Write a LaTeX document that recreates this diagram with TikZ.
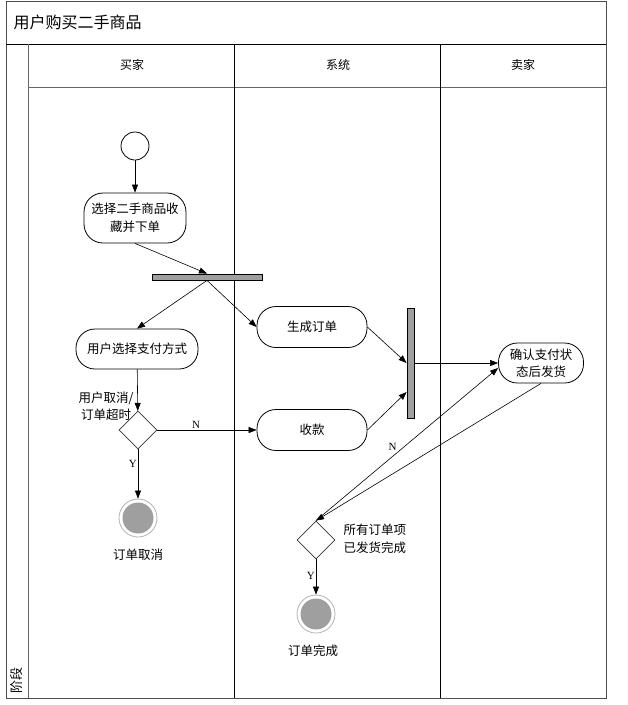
\documentclass[tikz,border=0pt]{standalone}
\usepackage{fontspec}
\setmainfont{Noto Sans CJK SC}
\newfontfamily\ynfont{Liberation Serif}
\usetikzlibrary{arrows.meta,calc,positioning,shapes.geometric}
\newcommand{\bodytext}{\fontsize{12.5}{17.5}\selectfont}

\begin{document}
\begin{tikzpicture}[x=1pt,y=-1pt,
  act/.style={draw,rectangle,rounded corners=19pt,line width=0.8pt,font=\bodytext,align=center,inner sep=1pt},
  syncbar/.style={draw,fill=gray!75,line width=0.8pt,inner sep=0pt},
  choice/.style={draw=black!80,diamond,aspect=1,minimum width=38pt,minimum height=38pt,inner sep=0pt,line width=0.8pt},
  startnode/.style={draw,circle,minimum size=28pt,line width=0.8pt,inner sep=0pt},
  endnode/.style={draw=black!30,circle,minimum size=38pt,inner sep=0pt,line width=0.8pt,
    path picture={\fill[gray!75] (path picture bounding box.center) circle (15.5pt);}},
  flow/.style={-{Triangle[length=8pt,width=6pt]},line width=0.6pt},
  yn/.style={font=\ynfont\fontsize{11}{12}\selectfont,inner sep=1pt}
]
\useasboundingbox (0,0) rectangle (628,705);
% frame and lanes
\draw[line width=0.8pt,black!70] (6,1) rectangle (606,698);
\draw[line width=0.8pt] (6,44) -- (606,44);
\draw[line width=0.8pt,black!60] (28,44) -- (28,698);
\draw[line width=0.8pt,black!60] (28,87) -- (606,87);
\foreach \x in {234,440}{\draw[line width=0.8pt] (\x,44) -- (\x,698);}
\node[anchor=west,font=\fontsize{16}{18}\selectfont] (title) at (10,22) {用户购买二手商品};
\node[rotate=90,anchor=west,font=\fontsize{13}{14}\selectfont] (phase) at (17,697) {阶段};
\foreach \x/\who in {132/买家,338/系统,523/卖家}{
  \node[font=\fontsize{12}{13}\selectfont] at (\x,65) {\who};
}
% nodes
\node[startnode] (start) at (135,146) {};
\node[act,minimum width=102pt,minimum height=50pt] (pick) at (135,218) {选择二手商品收\\藏并下单};
\node[syncbar,minimum width=110pt,minimum height=6pt] (fork) at (207,277) {};
\node[act,minimum width=122pt,minimum height=40pt] (pay) at (137,349) {用户选择支付方式};
\node[act,minimum width=110pt,minimum height=41pt] (make) at (312,327) {生成订单};
\node[act,minimum width=110pt,minimum height=41pt] (collect) at (312,430) {收款};
\node[syncbar,minimum width=7pt,minimum height=110pt] (join) at (410.5,363) {};
\node[act,minimum width=85pt,minimum height=40pt] (confirm) at (541,363) {确认支付状\\态后发货};
\node[choice] (chk1) at (138,430) {};
\node[font=\bodytext,align=center] (cancelq) at (106,406) {用户取消/\\订单超时};
\node[endnode] (end1) at (138,518) {};
\node[font=\bodytext] (cancelt) at (138,555) {订单取消};
\node[choice] (chk2) at (316,540) {};
\node[font=\bodytext,align=left,anchor=west] (doneq) at (340,539) {所有订单项\\已发货完成};
\node[endnode] (end2) at (316,614) {};
\node[font=\bodytext] (donet) at (313,651) {订单完成};
% connectors
\draw[flow] (start) -- (pick);
\draw[flow] (pick.south) -- (fork.north);
\draw[flow] (fork.south) -- (pay.north);
\draw[flow] (fork.south) -- (make.west);
\draw[flow] (make.east) -- (join.west);
\draw[flow] (collect.east) -- ($(join.west)+(0,29)$);
\draw[flow] (join.east) -- (confirm.west);
\draw[flow] (pay) -- (chk1);
\draw[flow] (chk1) -- node[yn,above,pos=0.39]{N} (collect);
\draw[flow] (chk1) -- node[yn,left,pos=0.3]{Y} (end1);
\draw[flow] (confirm.south) -- (chk2.north);
\draw[flow] (chk2.north) -- node[yn,pos=0.45,anchor=south east]{N} ($(confirm.west)+(0,5)$);
\draw[flow] (chk2) -- node[yn,left,pos=0.47]{Y} (end2);
\end{tikzpicture}
\end{document}
